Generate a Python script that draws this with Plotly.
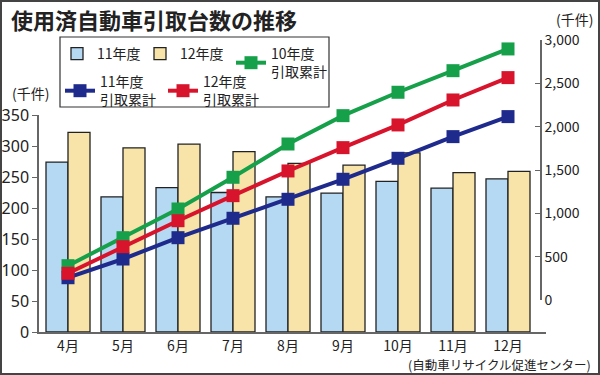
import plotly.graph_objects as go

months = ["4月", "5月", "6月", "7月", "8月", "9月", "10月", "11月", "12月"]
monthly_fy11 = [274, 218, 233, 225, 218, 224, 243, 232, 247]
monthly_fy12 = [322, 297, 303, 291, 272, 269, 289, 257, 259]
cum_fy10 = [396, 719, 1050, 1416, 1800, 2127, 2397, 2646, 2897]
cum_fy11 = [257, 473, 719, 943, 1162, 1393, 1635, 1885, 2116]
cum_fy12 = [308, 615, 915, 1204, 1489, 1758, 2020, 2308, 2566]

W, H = 600, 375
L, R, T, B = 39, 54, 40, 43
pw, ph = W - L - R, H - T - B

def px(x):
    return (x - L) / pw

def py(y):
    return (H - B - y) / ph

JP = "Noto Sans CJK JP"
BLUE_BAR = "#b5d8f3"
YELLOW_BAR = "#f8e4a8"
GREEN = "#16a04a"
RED = "#d7142c"
NAVY = "#1e2a8c"

fig = go.Figure()
fig.add_trace(go.Bar(x=months, y=monthly_fy11, name="11年度", marker=dict(color=BLUE_BAR, line=dict(color="#222", width=1.3)), yaxis="y", legend="legend"))
fig.add_trace(go.Bar(x=months, y=monthly_fy12, name="12年度", marker=dict(color=YELLOW_BAR, line=dict(color="#222", width=1.3)), yaxis="y", legend="legend"))
line_style = dict(mode="lines+markers", yaxis="y2", cliponaxis=False)
fig.add_trace(go.Scatter(x=months, y=cum_fy10, name="10年度<br>引取累計", line=dict(color=GREEN, width=4), marker=dict(symbol="square", size=13, color=GREEN), legend="legend3", **line_style))
fig.add_trace(go.Scatter(x=months, y=cum_fy11, name="11年度<br>引取累計", line=dict(color=NAVY, width=4), marker=dict(symbol="square", size=13, color=NAVY), legend="legend2", **line_style))
fig.add_trace(go.Scatter(x=months, y=cum_fy12, name="12年度<br>引取累計", line=dict(color=RED, width=4), marker=dict(symbol="square", size=13, color=RED), legend="legend2", **line_style))

x0c, dx = 68, 55.0
xr = [(L - x0c) / dx, (W - R - x0c) / dx]

legend_font = dict(family=JP, size=14, color="#222")
common_leg = dict(orientation="h", xanchor="left", yanchor="top", bgcolor="rgba(0,0,0,0)",
                  borderwidth=0, font=legend_font, itemwidth=30, valign="middle",
                  traceorder="normal", entrywidthmode="pixels")
fig.update_layout(
    width=W, height=H, autosize=False,
    margin=dict(l=L, r=R, t=T, b=B, pad=0),
    paper_bgcolor="white", plot_bgcolor="rgba(0,0,0,0)",
    barmode="group", bargap=0.2, bargroupgap=0,
    showlegend=True,
    legend=dict(x=px(57), y=py(38), entrywidth=38, **common_leg),
    legend3=dict(x=px(231), y=py(38), entrywidth=0, **common_leg),
    legend2=dict(x=px(60), y=py(66), entrywidth=58, **common_leg),
    xaxis=dict(type="category", range=xr, showline=True, linecolor="#666", linewidth=1.5,
               ticks="", showgrid=False, zeroline=False, automargin=False,
               tickfont=dict(family=JP, size=14, color="#222"), anchor="y"),
    yaxis=dict(domain=[0, py(115)], range=[0, 350], dtick=50, showline=True, linecolor="#666",
               linewidth=1.5, ticks="outside", ticklen=5, tickcolor="#666", showgrid=False,
               zeroline=False, automargin=False, anchor="x",
               tickfont=dict(family="Liberation Sans Narrow, Noto Sans", size=16, color="#222")),
    yaxis2=dict(domain=[py(300), 1], range=[0, 3000], dtick=500, tickformat=",d",
                side="right", anchor="free", position=px(541), showline=True, linecolor="#666",
                linewidth=1.5, ticks="inside", ticklen=5, tickcolor="#666", showgrid=False,
                zeroline=False, automargin=False,
                tickfont=dict(family=JP, size=14, color="#222")),
    font=dict(family=JP, color="#222"),
)

shapes = [
    dict(type="rect", xref="paper", yref="paper", x0=px(60), x1=px(329), y0=py(107), y1=py(37),
         line=dict(color="#333", width=1.2), fillcolor="white", layer="below"),
    dict(type="rect", xref="paper", yref="paper", x0=px(1), x1=px(599), y0=py(374), y1=py(1),
         line=dict(color="#444", width=2), fillcolor="rgba(0,0,0,0)", layer="above"),
]
fig.update_layout(shapes=shapes)

annotations = [
    dict(text="<b>使用済自動車引取台数の推移</b>", xref="paper", yref="paper", x=px(9), y=py(19),
         xanchor="left", yanchor="middle", showarrow=False, font=dict(family=JP, size=22, color="#222")),
    dict(text="(千件)", xref="paper", yref="paper", x=px(10), y=py(93),
         xanchor="left", yanchor="middle", showarrow=False, font=dict(family=JP, size=14, color="#222")),
    dict(text="(千件)", xref="paper", yref="paper", x=px(554), y=py(19),
         xanchor="left", yanchor="middle", showarrow=False, font=dict(family=JP, size=14, color="#222")),
    dict(text="(自動車リサイクル促進センター)", xref="paper", yref="paper", x=px(593), y=py(364),
         xanchor="right", yanchor="middle", showarrow=False, font=dict(family=JP, size=12.5, color="#222")),
]
fig.update_layout(annotations=annotations)

fig.write_html("out.html", config={"displayModeBar": False},
               post_script="document.body.style.margin='0';document.body.style.padding='0';")
